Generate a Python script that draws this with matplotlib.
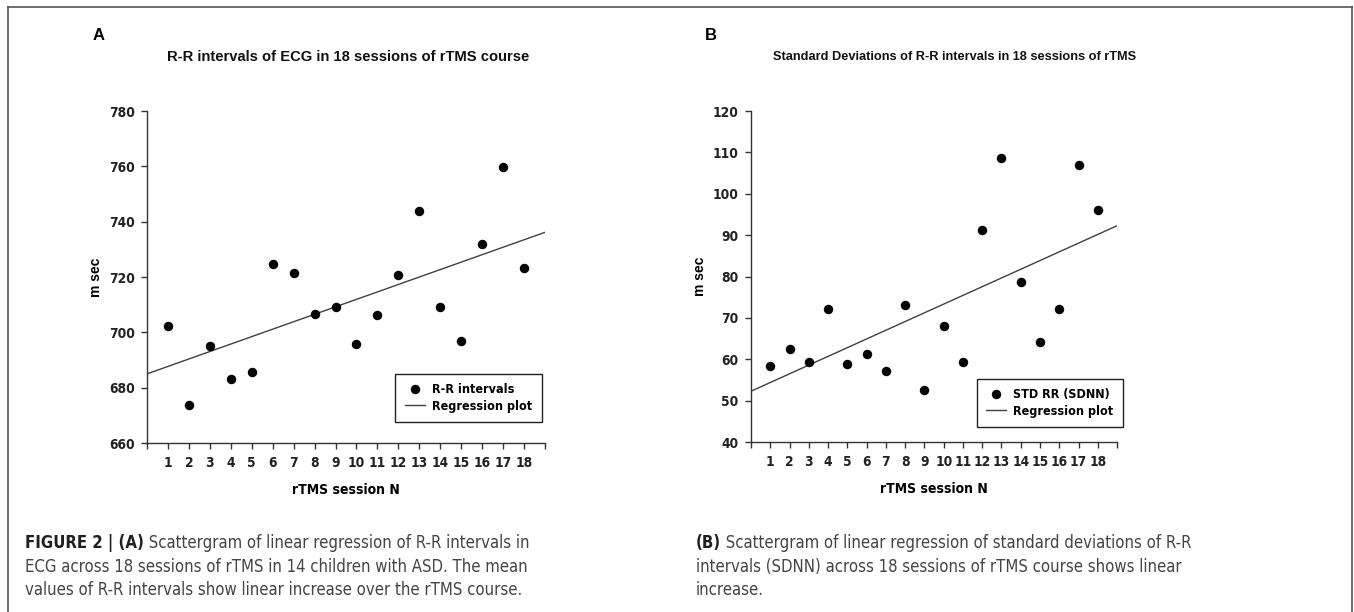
import numpy as np
import matplotlib
matplotlib.use('Agg')
import matplotlib.pyplot as plt
from matplotlib import font_manager
from matplotlib.lines import Line2D

# data
sessions = list(range(1, 19))
rr_intervals = [702.3, 673.7, 695.1, 683.3, 685.7, 724.6, 721.6, 706.6, 709.3,
                695.9, 706.2, 720.9, 743.9, 709.0, 697.0, 732.0, 759.9, 723.4]
sdnn = [58.5, 62.6, 59.3, 72.2, 58.8, 61.3, 57.3, 73.2, 52.6,
        68.0, 59.3, 91.3, 108.7, 78.8, 64.2, 72.1, 107.0, 96.1]

titles = ['R-R intervals of ECG in 18 sessions of rTMS course',
          'Standard Deviations of R-R intervals in 18 sessions of rTMS']
legend_labels = ['R-R intervals', 'STD RR (SDNN)']
yticks_a = [660, 680, 700, 720, 740, 760, 780]
yticks_b = [40, 50, 60, 70, 80, 90, 100, 110, 120]

# look for a condensed face, the original uses Arial Narrow
narrow, stretch, scale = 'Liberation Sans', 'normal', 0.85
for f in font_manager.fontManager.ttflist:
    st = str(f.stretch)
    if 'Narrow' in f.name or 'Condensed' in f.name or st in ('condensed', 'semi-condensed', 'extra-condensed', '500', '400', '300'):
        narrow, stretch, scale = f.name, f.stretch, 1.0
        break
plt.rcParams['font.family'] = 'Liberation Sans'

NK = dict(fontfamily=narrow, fontstretch=stretch)

fig = plt.figure(figsize=(13.54, 6.12), dpi=100)

def panel(rect, y, yticks, title, tsize, letter, label, leg_anchor, letter_x, title_x):
    ax = fig.add_axes(rect)
    x = np.array(sessions)
    ax.plot(x, y, 'o', color='black', ms=5.8, label=label, zorder=3)
    k, b = np.polyfit(x, y, 1)
    xx = np.array([0, 19])
    ax.plot(xx, k * xx + b, color='#404040', lw=1, label='Regression plot')
    ax.set_xlim(0, 19)
    ax.set_ylim(yticks[0], yticks[-1])
    ax.set_yticks(yticks)
    ax.set_xticks(range(0, 20))
    ax.set_xticklabels([''] + [str(s) for s in sessions] + [''])
    for sp in ['top', 'right']:
        ax.spines[sp].set_visible(False)
    for sp in ['left', 'bottom']:
        ax.spines[sp].set_color('#333333')
        ax.spines[sp].set_linewidth(1)
    ax.tick_params(direction='out', length=4, width=1, color='#333333', pad=5)
    for t in ax.get_xticklabels() + ax.get_yticklabels():
        t.set_fontfamily(narrow)
        t.set_fontstretch(stretch)
        t.set_fontweight('bold')
        t.set_fontsize(9.8 * scale)
        t.set_color('#222222')
    ax.set_ylabel('m sec', fontsize=10, fontweight='bold', labelpad=4)
    ax.set_xlabel('rTMS session N', fontsize=10 * scale, fontweight='bold',
                  labelpad=10, **NK)
    leg = ax.legend(loc='lower right', bbox_to_anchor=leg_anchor, borderaxespad=0,
                    fancybox=False, edgecolor='#222222', framealpha=1,
                    prop={'family': narrow, 'stretch': stretch, 'weight': 'bold',
                          'size': 9 * scale},
                    handlelength=1.6, handletextpad=0.6, borderpad=0.75,
                    labelspacing=0.3)
    leg.get_frame().set_linewidth(1)
    fig.text(letter_x, 1 - 36 / 612, letter, fontsize=12, fontweight='bold',
             ha='center', va='center')
    fig.text(title_x, 1 - 57 / 612, title, fontsize=tsize, fontweight='bold',
             ha='center', va='center', color='#111111')
    return ax

panel([0.1086, 0.2761, 0.2939, 0.5425], rr_intervals, yticks_a, titles[0], 10.6, 'A',
      legend_labels[0], (0.992, 0.063), 99 / 1354, 348 / 1354)
panel([0.5547, 0.2776, 0.2703, 0.5410], sdnn, yticks_b, titles[1], 9.2, 'B',
      legend_labels[1], (1.016, 0.045), 711 / 1354, 955 / 1354)

# outer frame of the figure panel
for xs, ys in [([8, 1352], [7, 7]), ([8, 8], [7, 612]), ([1352, 1352], [7, 612])]:
    fig.add_artist(Line2D([v / 1354 for v in xs], [1 - v / 612 for v in ys],
                          color='#555555', lw=1.2))

# caption
lines_a = [' Scattergram of linear regression of R-R intervals in',
           'ECG across 18 sessions of rTMS in 14 children with ASD. The mean',
           'values of R-R intervals show linear increase over the rTMS course.']
lines_b = [' Scattergram of linear regression of standard deviations of R-R',
           'intervals (SDNN) across 18 sessions of rTMS course shows linear',
           'increase.']
csize = 12 * scale
for x0, head, lines in [(25, 'FIGURE 2 | (A)', lines_a), (696, '(B)', lines_b)]:
    for i, line in enumerate(lines):
        yb = 1 - (548 + 23.5 * i) / 612
        if i == 0:
            h = fig.text(x0 / 1354, yb, head, fontsize=csize, fontweight='bold',
                         va='baseline', color='#231f20', **NK)
            fig.add_artist(plt.Annotation(line, xy=(1, 0), xycoords=h, va='bottom',
                                          fontsize=csize, color='#444444', **NK))
        else:
            fig.text(x0 / 1354, yb, line, fontsize=csize, va='baseline',
                     color='#444444', **NK)

plt.savefig('out.png', dpi=100)
